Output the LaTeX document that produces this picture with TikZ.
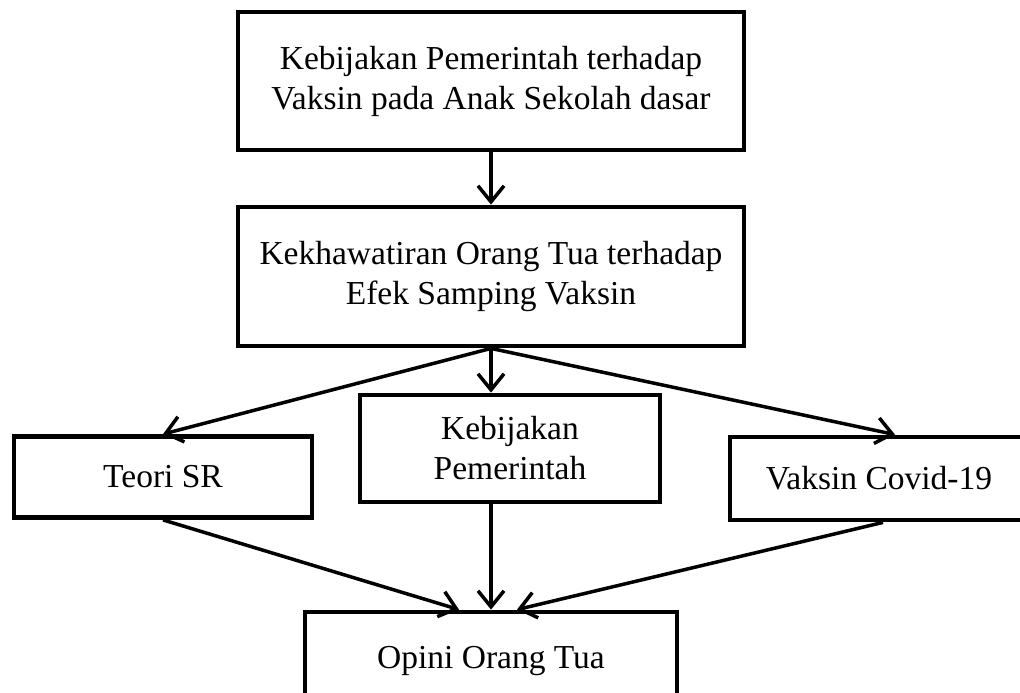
\documentclass[tikz,border=0pt]{standalone}
\usepackage{fontspec}
\setmainfont{Liberation Serif}
\usetikzlibrary{arrows.meta}
\begin{document}
\begin{tikzpicture}[x=1pt,y=-1pt,
  box/.style={draw, line width=4.8pt, rectangle, align=center, inner sep=0pt,
    font=\fontsize{33.5}{40}\selectfont},
  conn/.style={line width=3.5pt, -{Straight Barb[length=16pt,width=26pt]}}]
\useasboundingbox (0,0) rectangle (1020,693);
\clip (0,0) rectangle (1020,693);
\node[box, minimum width=506pt, minimum height=138pt] (top) at (491,81)
  {Kebijakan Pemerintah terhadap\\Vaksin pada Anak Sekolah dasar};
\node[box, minimum width=506pt, minimum height=139pt] (mid) at (491,276.5)
  {Kekhawatiran Orang Tua terhadap\\Efek Samping Vaksin};
\node[box, minimum width=298pt, minimum height=81pt] (teori) at (163,477)
  {Teori SR};
\node[box, minimum width=300pt, minimum height=107pt] (kebij) at (510,448.5)
  {Kebijakan\\Pemerintah};
\node[box, minimum width=298pt, minimum height=83pt] (vaksin) at (879,478.5)
  {Vaksin Covid-19};
\node[box, minimum width=372pt, minimum height=98pt] (opini) at (491,661)
  {Opini Orang Tua};
\coordinate (hub) at (mid.south);
\draw[conn] (top.south) -- (mid.north);
\draw[conn] (hub) -- (kebij.north -| hub);
\draw[conn] (hub) -- (teori.north);
\draw[conn] (hub) -- ([xshift=16pt]vaksin.north);
\coordinate (tipL) at ([xshift=-32pt]opini.north);
\coordinate (tipR) at ([xshift=26pt]opini.north);
\draw[conn] (teori.south) -- (tipL);
\draw[conn] (kebij.south -| hub) -- (opini.north);
\draw[conn] ([xshift=4pt]vaksin.south) -- (tipR);
\end{tikzpicture}
\end{document}
